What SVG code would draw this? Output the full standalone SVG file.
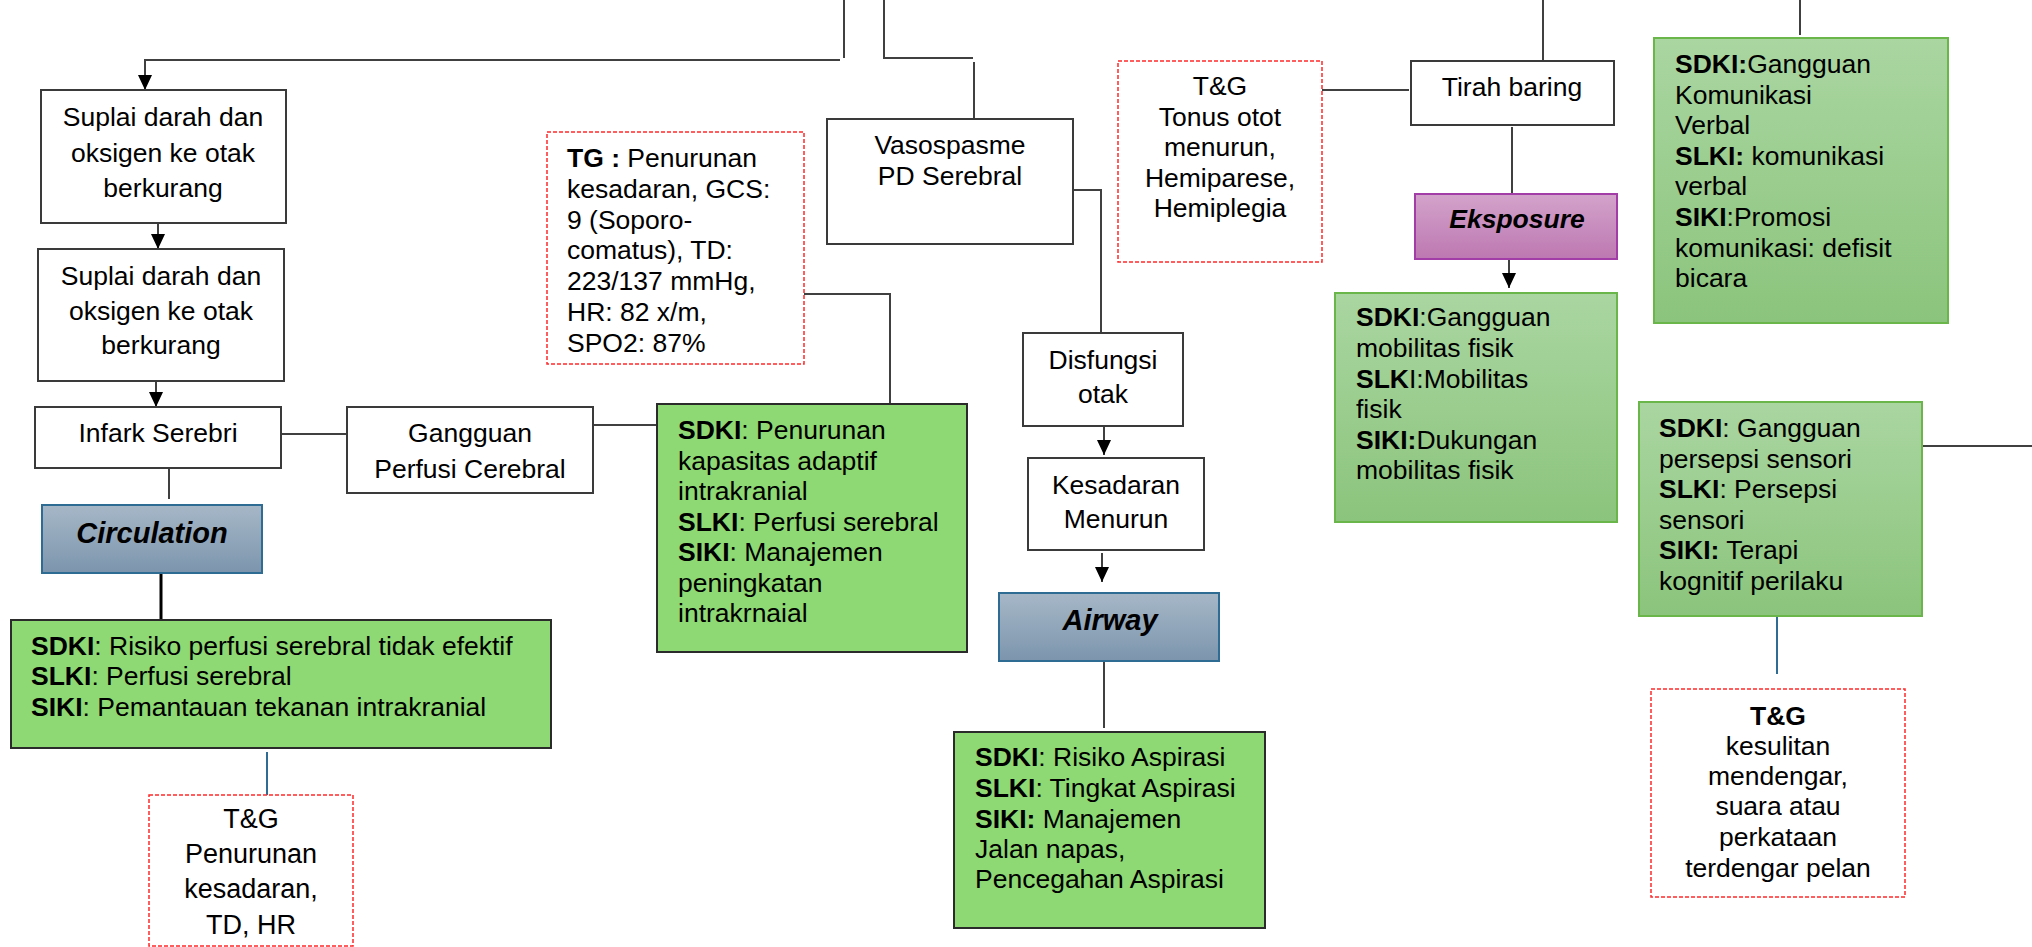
<svg xmlns="http://www.w3.org/2000/svg" width="2032" height="947" viewBox="0 0 2032 947">
<style>
.box{fill:#fff;stroke:#3a3a3a;stroke-width:2}
.g1{fill:#8ED973;stroke:#2b2b2b;stroke-width:2}
.g2{fill:url(#gg);stroke:#6AB64A;stroke-width:2}
.tg{fill:#fff;stroke:#FF2A2A;stroke-width:1.5;stroke-dasharray:4 2}
.blu{fill:url(#gb);stroke:#2F6C93;stroke-width:2}
.pur{fill:url(#gp);stroke:#A23DA8;stroke-width:2}
text{font-family:"Liberation Sans",Arial,sans-serif;font-size:26.5px;fill:#000}
.c{text-anchor:middle}
.b{font-weight:bold}
.bi{font-weight:bold;font-style:italic;font-size:29px}
.conn{fill:none;stroke:#404040;stroke-width:2}
.blue{fill:none;stroke:#2F6C93;stroke-width:2}
</style>
<defs>
<linearGradient id="gb" x1="0" y1="0" x2="0" y2="1"><stop offset="0" stop-color="#A6B7C7"/><stop offset="1" stop-color="#7C95AD"/></linearGradient>
<linearGradient id="gp" x1="0" y1="0" x2="0" y2="1"><stop offset="0" stop-color="#D3A3CB"/><stop offset="1" stop-color="#BD78B1"/></linearGradient>
<linearGradient id="gg" x1="0" y1="0" x2="0" y2="1"><stop offset="0" stop-color="#AAD6A1"/><stop offset="1" stop-color="#8BC47C"/></linearGradient>
<marker id="arr" markerUnits="userSpaceOnUse" viewBox="0 0 15 14" refX="15" refY="7" markerWidth="15" markerHeight="14" orient="auto"><path d="M0,0 L15,7 L0,14 z" fill="#000"/></marker>
</defs>

<g id="connectors">
<path class="conn" d="M844,0 V58"/>
<path class="conn" d="M840,60 H145 V90" marker-end="url(#arr)"/>
<path class="conn" d="M884,0 V58 H973"/>
<path class="conn" d="M974,62 V119"/>
<path class="conn" d="M158,223 V249" marker-end="url(#arr)"/>
<path class="conn" d="M156,381 V407" marker-end="url(#arr)"/>
<path class="conn" d="M281,434 H347"/>
<path class="conn" d="M593,425 H657"/>
<path class="conn" d="M169,468 V499"/>
<path class="conn" d="M161,573 V620" style="stroke:#000;stroke-width:3"/>
<path class="blue" d="M267,752 V795"/>
<path class="conn" d="M804,294 H890 V404"/>
<path class="conn" d="M1073,190 H1101 V333"/>
<path class="conn" d="M1104,426 V455" marker-end="url(#arr)"/>
<path class="conn" d="M1102,553 V582" marker-end="url(#arr)"/>
<path class="conn" d="M1104,661 V728"/>
<path class="conn" d="M1322,90 H1409"/>
<path class="conn" d="M1543,0 V61"/>
<path class="conn" d="M1512,127 V194"/>
<path class="conn" d="M1509,259 V288" marker-end="url(#arr)"/>
<path class="conn" d="M1800,0 V35"/>
<path class="conn" d="M1922,446 H2032"/>
<path class="blue" d="M1777,607 V674"/>
</g>

<g id="suplai1">
<rect class="box" x="41" y="90" width="245" height="133"/>
<text class="c" x="163" y="126">Suplai darah dan</text>
<text class="c" x="163" y="162">oksigen ke otak</text>
<text class="c" x="163" y="197">berkurang</text>
</g>

<g id="suplai2">
<rect class="box" x="38" y="249" width="246" height="132"/>
<text class="c" x="161" y="285">Suplai darah dan</text>
<text class="c" x="161" y="320">oksigen ke otak</text>
<text class="c" x="161" y="354">berkurang</text>
</g>

<g id="infark">
<rect class="box" x="35" y="407" width="246" height="61"/>
<text class="c" x="158" y="442">Infark Serebri</text>
</g>

<g id="gangguan">
<rect class="box" x="347" y="407" width="246" height="86"/>
<text class="c" x="470" y="442">Gangguan</text>
<text class="c" x="470" y="478">Perfusi Cerebral</text>
</g>

<g id="circulation">
<rect class="blu" x="42" y="505" width="220" height="68"/>
<text class="c bi" x="152" y="543">Circulation</text>
</g>

<g id="risiko">
<rect class="g1" x="11" y="620" width="540" height="128"/>
<text x="31" y="655"><tspan class="b">SDKI</tspan>: Risiko perfusi serebral tidak efektif</text>
<text x="31" y="685"><tspan class="b">SLKI</tspan>: Perfusi serebral</text>
<text x="31" y="716"><tspan class="b">SIKI</tspan>: Pemantauan tekanan intrakranial</text>
</g>

<g id="tg-left">
<rect class="tg" x="149" y="795" width="204" height="151"/>
<text class="c" x="251" y="828" style="font-size:27px">T&amp;G</text>
<text class="c" x="251" y="863" style="font-size:27px">Penurunan</text>
<text class="c" x="251" y="898" style="font-size:27px">kesadaran,</text>
<text class="c" x="251" y="934" style="font-size:27px">TD, HR</text>
</g>

<g id="tg-box">
<rect class="tg" x="547" y="132" width="257" height="232"/>
<text x="567" y="167"><tspan class="b">TG :</tspan> Penurunan</text>
<text x="567" y="198">kesadaran, GCS:</text>
<text x="567" y="228.5">9 (Soporo-</text>
<text x="567" y="259">comatus), TD:</text>
<text x="567" y="290">223/137 mmHg,</text>
<text x="567" y="321">HR: 82 x/m,</text>
<text x="567" y="352">SPO2: 87%</text>
</g>

<g id="kapasitas">
<rect class="g1" x="657" y="404" width="310" height="248"/>
<text x="678" y="439"><tspan class="b">SDKI</tspan>: Penurunan</text>
<text x="678" y="469.5">kapasitas adaptif</text>
<text x="678" y="500">intrakranial</text>
<text x="678" y="530.5"><tspan class="b">SLKI</tspan>: Perfusi serebral</text>
<text x="678" y="561"><tspan class="b">SIKI</tspan>: Manajemen</text>
<text x="678" y="591.5">peningkatan</text>
<text x="678" y="622">intrakrnaial</text>
</g>

<g id="vasospasme">
<rect class="box" x="827" y="119" width="246" height="125"/>
<text class="c" x="950" y="154">Vasospasme</text>
<text class="c" x="950" y="185">PD Serebral</text>
</g>

<g id="disfungsi">
<rect class="box" x="1023" y="333" width="160" height="93"/>
<text class="c" x="1103" y="369">Disfungsi</text>
<text class="c" x="1103" y="403">otak</text>
</g>

<g id="kesadaran">
<rect class="box" x="1028" y="458" width="176" height="92"/>
<text class="c" x="1116" y="494">Kesadaran</text>
<text class="c" x="1116" y="528">Menurun</text>
</g>

<g id="airway">
<rect class="blu" x="999" y="593" width="220" height="68"/>
<text class="c bi" x="1110" y="630">Airway</text>
</g>

<g id="aspirasi">
<rect class="g1" x="954" y="732" width="311" height="196"/>
<text x="975" y="766"><tspan class="b">SDKI</tspan>: Risiko Aspirasi</text>
<text x="975" y="797"><tspan class="b">SLKI</tspan>: Tingkat Aspirasi</text>
<text x="975" y="828"><tspan class="b">SIKI:</tspan> Manajemen</text>
<text x="975" y="858">Jalan napas,</text>
<text x="975" y="888">Pencegahan Aspirasi</text>
</g>

<g id="tg-tonus">
<rect class="tg" x="1118" y="61" width="204" height="201"/>
<text class="c" x="1220" y="95">T&amp;G</text>
<text class="c" x="1220" y="125.5">Tonus otot</text>
<text class="c" x="1220" y="156">menurun,</text>
<text class="c" x="1220" y="186.5">Hemiparese,</text>
<text class="c" x="1220" y="217">Hemiplegia</text>
</g>

<g id="tirah">
<rect class="box" x="1411" y="61" width="203" height="64"/>
<text class="c" x="1512" y="96">Tirah baring</text>
</g>

<g id="eksposure">
<rect class="pur" x="1415" y="194" width="202" height="65"/>
<text class="c bi" x="1517" y="228" style="font-size:26.5px">Eksposure</text>
</g>

<g id="mobilitas">
<rect class="g2" x="1335" y="293" width="282" height="229"/>
<text x="1356" y="326"><tspan class="b">SDKI</tspan>:Gangguan</text>
<text x="1356" y="357">mobilitas fisik</text>
<text x="1356" y="388"><tspan class="b">SLK</tspan>I:Mobilitas</text>
<text x="1356" y="418">fisik</text>
<text x="1356" y="449"><tspan class="b">SIKI:</tspan>Dukungan</text>
<text x="1356" y="479">mobilitas fisik</text>
</g>

<g id="komunikasi">
<rect class="g2" x="1654" y="38" width="294" height="285"/>
<text x="1675" y="73"><tspan class="b">SDKI:</tspan>Gangguan</text>
<text x="1675" y="103.6">Komunikasi</text>
<text x="1675" y="134.2">Verbal</text>
<text x="1675" y="164.8"><tspan class="b">SLKI:</tspan> komunikasi</text>
<text x="1675" y="195.4">verbal</text>
<text x="1675" y="226"><tspan class="b">SIKI</tspan>:Promosi</text>
<text x="1675" y="256.6">komunikasi: defisit</text>
<text x="1675" y="287.2">bicara</text>
</g>

<g id="persepsi">
<rect class="g2" x="1639" y="402" width="283" height="214"/>
<text x="1659" y="437"><tspan class="b">SDKI</tspan>: Gangguan</text>
<text x="1659" y="467.5">persepsi sensori</text>
<text x="1659" y="498"><tspan class="b">SLKI</tspan>: Persepsi</text>
<text x="1659" y="528.5">sensori</text>
<text x="1659" y="559"><tspan class="b">SIKI:</tspan> Terapi</text>
<text x="1659" y="589.5">kognitif perilaku</text>
</g>

<g id="tg-right">
<rect class="tg" x="1651" y="689" width="254" height="208"/>
<text class="c b" x="1778" y="725">T&amp;G</text>
<text class="c" x="1778" y="755">kesulitan</text>
<text class="c" x="1778" y="785">mendengar,</text>
<text class="c" x="1778" y="815">suara atau</text>
<text class="c" x="1778" y="846">perkataan</text>
<text class="c" x="1778" y="877">terdengar pelan</text>
</g>
</svg>
